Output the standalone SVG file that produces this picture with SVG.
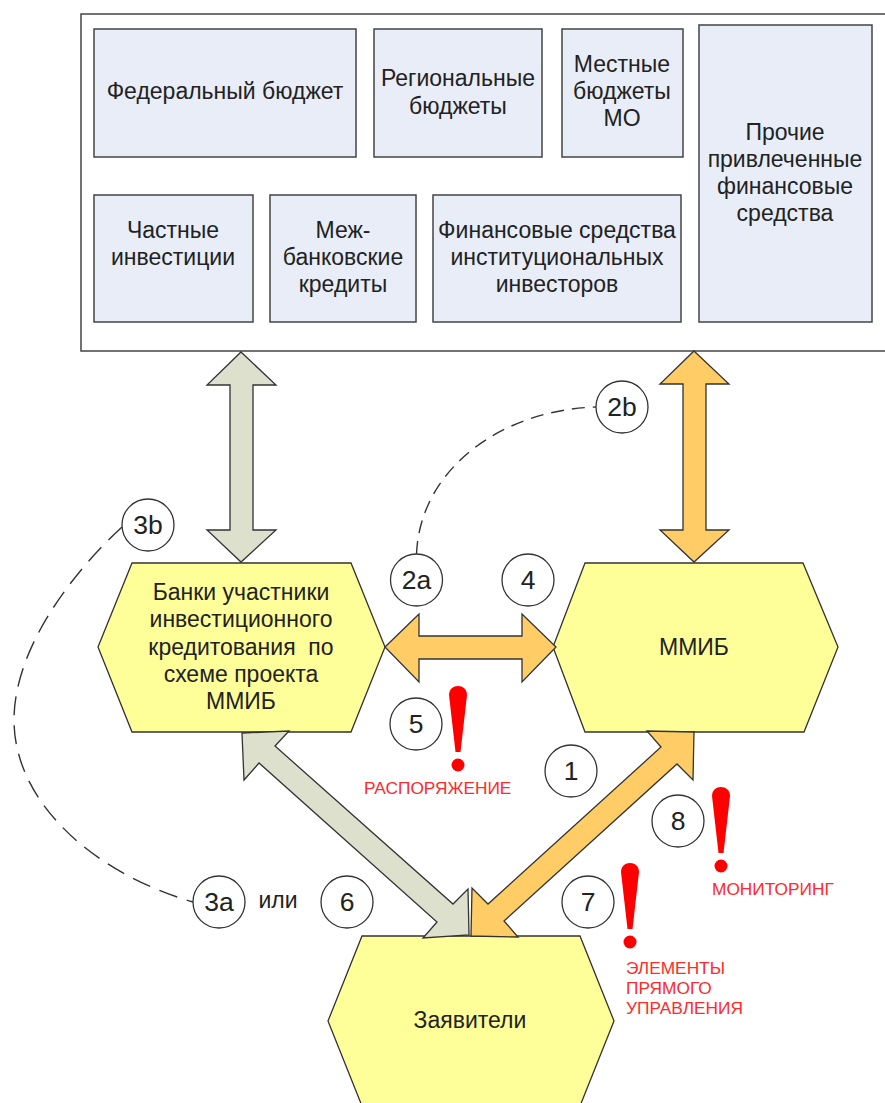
<svg xmlns="http://www.w3.org/2000/svg" width="885" height="1103" viewBox="0 0 885 1103">
<style>
text{font-family:"Liberation Sans",Arial,sans-serif;fill:#222;text-anchor:middle}
.t{font-size:23px}
.n{font-size:26.500px}
.r{font-size:17.300px;fill:#ff2a2a;text-anchor:start}
.box{fill:#e8edf7;stroke:#444;stroke-width:1.5}
.hex{fill:#ffff99;stroke:#333;stroke-width:1.3}
.c{fill:#fff;stroke:#333;stroke-width:1.3}
.gray{fill:#dde0cc;stroke:#333;stroke-width:1.3}
.or{fill:#ffcc66;stroke:#333;stroke-width:1.3}
.d{fill:none;stroke:#333;stroke-width:1.4;stroke-dasharray:13 8}
.d2{fill:none;stroke:#333;stroke-width:1.4;stroke-dasharray:19 10}
</style>
<defs>
<g id="excl"><path d="M-9 -70C-9 -82 9 -82 9 -70L2.500 -13H-2.500Z" fill="#f00"/><circle cx="0" cy="0" r="6.500" fill="#f00"/></g>
</defs>
<g id="container"><rect x="81" y="14" width="820" height="337" fill="#fff" stroke="#444" stroke-width="1.5"/></g>
<g id="federal"><rect class="box" x="94" y="29" width="262" height="128"/><text class="t" x="225" y="99">Федеральный бюджет</text></g>
<g id="regional"><rect class="box" x="374" y="29" width="168" height="128"/><text class="t" x="458" y="86">Региональные</text><text class="t" x="458" y="114">бюджеты</text></g>
<g id="local"><rect class="box" x="562" y="29" width="121" height="128"/><text class="t" x="622" y="72">Местные</text><text class="t" x="622" y="99">бюджеты</text><text class="t" x="622" y="126">МО</text></g>
<g id="other"><rect class="box" x="699" y="25" width="173" height="297"/><text class="t" x="785" y="140">Прочие</text><text class="t" x="785" y="167">привлеченные</text><text class="t" x="785" y="194">финансовые</text><text class="t" x="785" y="221">средства</text></g>
<g id="private"><rect class="box" x="94" y="195" width="159" height="127"/><text class="t" x="173" y="238">Частные</text><text class="t" x="173" y="265">инвестиции</text></g>
<g id="interbank"><rect class="box" x="270" y="195" width="146" height="127"/><text class="t" x="343" y="238">Меж-</text><text class="t" x="343" y="265">банковские</text><text class="t" x="343" y="292">кредиты</text></g>
<g id="institutional"><rect class="box" x="433" y="195" width="248" height="127"/><text class="t" x="557" y="238">Финансовые средства</text><text class="t" x="557" y="265">институциональных</text><text class="t" x="557" y="292">инвесторов</text></g>
<g id="banks"><polygon class="hex" points="132,563 351,563 385,647 351,732 132,732 98,647"/><text class="t" x="241" y="600">Банки участники</text><text class="t" x="241" y="627">инвестиционного</text><text class="t" x="241" y="655" xml:space="preserve">кредитования  по</text><text class="t" x="241" y="682">схеме проекта</text><text class="t" x="241" y="709">ММИБ</text></g>
<g id="mmib"><polygon class="hex" points="585,563 803,563 838,647 804,732 585,732 553,647"/><text class="t" x="694" y="655">ММИБ</text></g>
<g id="applicants"><polygon class="hex" points="362,936 580,936 614,1021 580,1106 362,1106 328,1021"/><text class="t" x="470" y="1028">Заявители</text></g>
<g id="connectors">
<path class="d" d="M416.500 554C420 470 500 410 596 407"/>
<path class="d2" d="M122 527C70 575 14 650 14 720C14 800 90 872 193 902"/>
<polygon class="gray" points="241,352 276,385 253,385 253,530 276,530 241,562 207,530 230,530 230,385 207,385"/>
<polygon class="or" points="694,351 729,384 706,384 706,530 729,530 694,562 660,530 683,530 683,384 660,384"/>
<polygon class="or" points="385,647 419,614 419,636 522,636 522,614 556,647 522,682 522,659 419,659 419,682"/>
<polygon class="gray" points="242,733 289,731 275,746 453,904 468,889 469,935 423,938 437,922 259,763 244,780"/>
<polygon class="or" points="471,936 472,888 488,904 661,747 647,731 694,732 693,780 677,764 504,921 518,937"/>
</g>
<g id="n2b"><circle class="c" cx="622" cy="407" r="26"/><text class="n" x="622" y="416">2b</text></g>
<g id="n2a"><circle class="c" cx="416.500" cy="580" r="26"/><text class="n" x="416.500" y="589">2a</text></g>
<g id="n4"><circle class="c" cx="528" cy="580" r="26"/><text class="n" x="528" y="589">4</text></g>
<g id="n3b"><circle class="c" cx="148" cy="525" r="26"/><text class="n" x="148" y="534">3b</text></g>
<g id="n5"><circle class="c" cx="416" cy="724" r="26"/><text class="n" x="416" y="733">5</text></g>
<g id="n1"><circle class="c" cx="571" cy="771" r="26"/><text class="n" x="571" y="780">1</text></g>
<g id="n8"><circle class="c" cx="678" cy="821" r="26"/><text class="n" x="678" y="830">8</text></g>
<g id="n7"><circle class="c" cx="588" cy="902" r="26"/><text class="n" x="588" y="911">7</text></g>
<g id="n3a"><circle class="c" cx="219" cy="902" r="26"/><text class="n" x="219" y="911">3a</text></g>
<g id="n6"><circle class="c" cx="347" cy="902" r="26"/><text class="n" x="347" y="911">6</text></g>
<text class="t" x="278" y="908">или</text>
<use href="#excl" x="458" y="765"/>
<use href="#excl" x="721" y="866"/>
<use href="#excl" x="630" y="942"/>
<text class="r" x="364" y="794">РАСПОРЯЖЕНИЕ</text>
<text class="r" x="712" y="895">МОНИТОРИНГ</text>
<text class="r" x="626" y="974">ЭЛЕМЕНТЫ</text>
<text class="r" x="626" y="994">ПРЯМОГО</text>
<text class="r" x="626" y="1014">УПРАВЛЕНИЯ</text>
</svg>
